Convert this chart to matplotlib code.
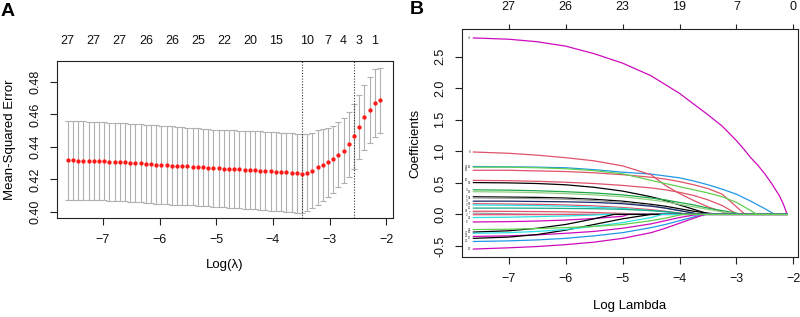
import matplotlib
matplotlib.use('Agg')
import matplotlib.pyplot as plt
import numpy as np

plt.rcParams['font.family'] = ['Liberation Sans', 'DejaVu Sans']

# ---- Panel A: cross-validation curve ----
# lambda grid (log scale, evenly spaced as in glmnet)
log_lambda = np.linspace(-7.62, -2.11, 61)

cvm = [0.4317, 0.4317, 0.4316, 0.4316, 0.4315, 0.4314,
       0.4313, 0.4312, 0.4310, 0.4309, 0.4307,
       0.4305, 0.4303, 0.4301, 0.4299, 0.4297,
       0.4295, 0.4292, 0.4290, 0.4288, 0.4286,
       0.4284, 0.4282, 0.4280, 0.4278, 0.4276,
       0.4274, 0.4272, 0.4270, 0.4268, 0.4266,
       0.4264, 0.4263, 0.4262, 0.4261, 0.4259,
       0.4257, 0.4255, 0.4252, 0.4250, 0.4248,
       0.4246, 0.4244, 0.4241, 0.4238, 0.4235,
       0.4241, 0.4255, 0.4274, 0.4290, 0.4305,
       0.4325, 0.4352, 0.4378, 0.4417, 0.4465,
       0.4522, 0.4582, 0.4629, 0.4668, 0.4686]

cvsd = [0.0242, 0.0242, 0.0242, 0.0242, 0.0241, 0.0241,
        0.0241, 0.0241, 0.0240, 0.0240, 0.0240,
        0.0240, 0.0240, 0.0240, 0.0240, 0.0240,
        0.0241, 0.0241, 0.0241, 0.0241, 0.0241,
        0.0240, 0.0240, 0.0239, 0.0238, 0.0238,
        0.0237, 0.0237, 0.0237, 0.0237, 0.0238,
        0.0238, 0.0239, 0.0239, 0.0240, 0.0240,
        0.0241, 0.0241, 0.0241, 0.0241, 0.0242,
        0.0242, 0.0242, 0.0242, 0.0242, 0.0242,
        0.0237, 0.0233, 0.0229, 0.0220, 0.0214,
        0.0207, 0.0201, 0.0201, 0.0201, 0.0199,
        0.0197, 0.0199, 0.0202, 0.0209, 0.0203]

idx_min = 45
idx_1se = 55

nzero_idx = [0, 5, 10, 15, 20, 25, 30, 35, 40, 46, 50, 53, 56, 59]
nzero_lab = [27, 27, 27, 26, 26, 25, 22, 20, 15, 10, 7, 4, 3, 1]

# ---- Panel B: coefficient paths ----
# the large coefficient, read at a finer set of points
top_knots = [-7.62, -7.0, -6.5, -6.0, -5.5, -5.0, -4.5, -4.0, -3.5, -3.25, -3.0,
             -2.875, -2.75, -2.625, -2.5, -2.375, -2.25, -2.18, -2.11]
top_path = [2.80, 2.78, 2.74, 2.67, 2.55, 2.40, 2.20, 1.92, 1.58, 1.40, 1.17,
            1.04, 0.90, 0.78, 0.64, 0.48, 0.30, 0.17, 0.0]
top_color = '#CD0BBC'
top_label = 4

knots = [-7.62, -7.0, -6.5, -6.0, -5.5, -5.0, -4.5, -4.25, -4.0,
         -3.75, -3.5, -3.25, -3.0, -2.75, -2.5, -2.25, -2.11]

coef_paths = [
    [0.76, 0.755, 0.75, 0.74, 0.71, 0.67, 0.64, 0.61, 0.58, 0.53, 0.47, 0.40, 0.32, 0.21, 0.09],
    [0.70, 0.70, 0.69, 0.68, 0.66, 0.63, 0.59, 0.56, 0.52, 0.47, 0.41, 0.32, 0.12],
    [0.99, 0.97, 0.94, 0.90, 0.85, 0.77, 0.63, 0.46, 0.33, 0.22, 0.12, 0.04],
    [0.54, 0.535, 0.525, 0.51, 0.49, 0.46, 0.42, 0.39, 0.35, 0.30, 0.23, 0.14, 0.01],
    [0.505, 0.50, 0.49, 0.47, 0.43, 0.37, 0.28, 0.22, 0.15, 0.08, 0.01],
    [0.39, 0.385, 0.375, 0.36, 0.34, 0.31, 0.26, 0.23, 0.19, 0.15, 0.10, 0.06, 0.02],
    [0.36, 0.355, 0.345, 0.33, 0.31, 0.28, 0.23, 0.20, 0.16, 0.12, 0.08, 0.04, 0.005],
    [0.28, 0.275, 0.27, 0.26, 0.24, 0.21, 0.16, 0.13, 0.09, 0.05, 0.02],
    [0.26, 0.255, 0.25, 0.24, 0.22, 0.19, 0.14, 0.10, 0.06, 0.02],
    [0.21, 0.21, 0.205, 0.20, 0.19, 0.17, 0.13, 0.10, 0.06, 0.02],
    [0.17, 0.165, 0.16, 0.15, 0.135, 0.11, 0.075, 0.05, 0.02],
    [0.15, 0.145, 0.14, 0.13, 0.115, 0.095, 0.06, 0.04, 0.01],
    [0.10, 0.10, 0.098, 0.095, 0.09, 0.08, 0.06, 0.045, 0.02],
    [0.05, 0.048, 0.045, 0.04, 0.03, 0.015],
    [0.02, 0.01],
    [-0.005, -0.004, -0.003, -0.001],
    [-0.05, -0.045, -0.035, -0.025, -0.01],
    [-0.12, -0.115, -0.105, -0.09, -0.065, -0.03],
    [-0.28, -0.26, -0.22, -0.16, -0.07],
    [-0.35, -0.34, -0.325, -0.30, -0.27, -0.22, -0.15, -0.10, -0.05, -0.01],
    [-0.38, -0.36, -0.32, -0.25, -0.16, -0.07],
    [-0.43, -0.42, -0.405, -0.38, -0.34, -0.29, -0.21, -0.16, -0.10, -0.04],
    [-0.55, -0.53, -0.51, -0.48, -0.44, -0.38, -0.29, -0.22, -0.14, -0.06],
    [-0.30, -0.29, -0.27, -0.24, -0.19, -0.13, -0.05],
    [-0.24, -0.235, -0.225, -0.21, -0.19, -0.16, -0.10, -0.06, -0.01],
    [0.75, 0.75, 0.74, 0.725, 0.695, 0.645, 0.54, 0.49, 0.44, 0.39, 0.34, 0.28, 0.19, 0.06],
]
coef_ends = [-2.33, -2.85, -3.10, -2.97, -3.45, -2.93, -2.99, -3.30, -3.60,
             -3.70, -3.85, -3.90, -3.80, -4.60, -6.30, -5.50, -5.30, -4.90, -5.15,
             -3.60, -4.50, -3.55, -3.55, -4.30, -3.95, -2.64]
coef_colors = ['#2297E6', '#DF536B', '#DF536B', '#DF536B', '#000000',
               '#1FA84A', '#8FD17F', '#000000', '#9E9E9E', '#1B2A6B', '#DF536B',
               '#28E2E5', '#1FA882', '#DF536B', '#9E9E9E', '#DF536B', '#28E2E5',
               '#CD0BBC', '#000000', '#CD0BBC', '#000000', '#2297E6', '#CD0BBC',
               '#28E2E5', '#61D04F', '#61D04F']
coef_labels = [12, 16, 8, 10, 14, 3, 19, 1, 24, 9, 18, 5, 11, 26, 7, 2, 21,
               6, 15, 22, 17, 20, 13, 27, 23, 25]

top_ticks_B = [-7, -6, -5, -4, -3, -2]
top_labels_B = [27, 26, 23, 19, 7, 0]

W, H = 800, 317
fig = plt.figure(figsize=(W / 100, H / 100), dpi=100)


def px_axes(l, t, r, b):
    return fig.add_axes([l / W, 1 - b / H, (r - l) / W, (b - t) / H])


def style(ax):
    for s in ax.spines.values():
        s.set_linewidth(0.8)
        s.set_color('#222222')
    ax.tick_params(axis='both', direction='out', length=5, width=0.8,
                   color='#222222', labelsize=9, labelcolor='#111111', pad=6.5)
    for lab in ax.get_yticklabels():
        lab.set_rotation(90)
        lab.set_va('center')


# Panel A
axA = px_axes(57, 61, 393, 218)
axA.errorbar(log_lambda, cvm, yerr=cvsd, fmt='none', ecolor='#b0b0b0',
             elinewidth=0.8, capsize=2.4, capthick=0.8, zorder=1)
axA.plot(log_lambda, cvm, 'o', color='#ff1a1a', ms=3.1, mec='none', zorder=3)
for i in (idx_min, idx_1se):
    axA.axvline(log_lambda[i], ls=(0, (1, 1.5)), color='#333333', lw=0.8, zorder=2)
axA.set_xlim(-7.81, -1.88)
axA.set_ylim(0.3963, 0.4929)
axA.set_xticks([-7, -6, -5, -4, -3, -2])
axA.set_yticks([0.40, 0.42, 0.44, 0.46, 0.48])
axA.set_yticklabels(['0.40', '0.42', '0.44', '0.46', '0.48'])
style(axA)
topA = axA.twiny()
topA.set_xlim(axA.get_xlim())
topA.set_xticks([log_lambda[i] for i in nzero_idx])
topA.set_xticklabels([str(v) for v in nzero_lab])
topA.tick_params(axis='x', length=0, labelsize=9, pad=10, labelcolor='#111111')
for s in topA.spines.values():
    s.set_visible(False)

# Panel B
axB = px_axes(462, 29, 798, 257)
axB.plot(top_knots, top_path, color=top_color, lw=0.9)
for vals, end, col in zip(coef_paths, coef_ends, coef_colors):
    n = len(vals)
    xs = list(knots[:n]) + [end, knots[-1]]
    ys = list(vals) + [0, 0]
    axB.plot(xs, ys, color=col, lw=0.9)
# tiny variable labels at the left end of each path
axB.text(-7.71, top_path[0], str(top_label), fontsize=2.2, ha='center',
         va='center', color='#333333')
for k, (vals, lab) in enumerate(zip(coef_paths, coef_labels)):
    axB.text(-7.74 if k % 2 else -7.69, vals[0], str(lab), fontsize=2.2,
             ha='center', va='center', color='#333333')
axB.set_xlim(-7.82, -1.92)
axB.set_ylim(-0.676, 2.942)
axB.set_xticks([-7, -6, -5, -4, -3, -2])
axB.set_yticks([-0.5, 0.0, 0.5, 1.0, 1.5, 2.0, 2.5])
axB.set_yticklabels(['-0.5', '0.0', '0.5', '1.0', '1.5', '2.0', '2.5'])
style(axB)
topB = axB.twiny()
topB.set_xlim(axB.get_xlim())
topB.set_xticks(top_ticks_B)
topB.set_xticklabels([str(v) for v in top_labels_B])
topB.tick_params(axis='x', direction='out', length=3.5, width=0.8, color='#222222',
                 labelsize=9, pad=8, labelcolor='#111111')
for s in topB.spines.values():
    s.set_visible(False)

# axis titles and panel letters
fig.text(225 / W, 1 - 265 / H, 'Log(\u03bb)', ha='center', va='center', fontsize=9.5)
fig.text(10 / W, 1 - 139.5 / H, 'Mean-Squared Error', ha='center', va='center',
         rotation=90, fontsize=9.5)
fig.text(630 / W, 1 - 305.7 / H, 'Log Lambda', ha='center', va='center', fontsize=9.5)
fig.text(415 / W, 1 - 143 / H, 'Coefficients', ha='center', va='center',
         rotation=90, fontsize=9.5)
fig.text(8 / W, 1 - 12 / H, 'A', ha='center', va='center', fontsize=14,
         fontweight='bold')
fig.text(417 / W, 1 - 10 / H, 'B', ha='center', va='center', fontsize=14,
         fontweight='bold')

fig.savefig('out.png', dpi=100)
